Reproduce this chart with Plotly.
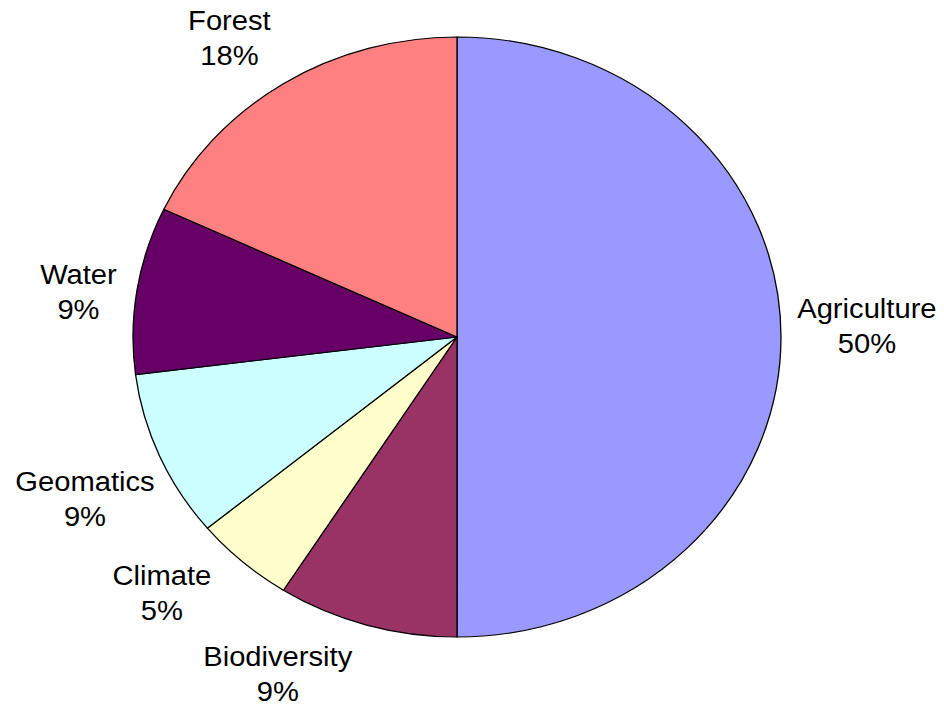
import plotly.graph_objects as go

# Share of projects by theme (percent)
themes = ["Agriculture", "Biodiversity", "Climate", "Geomatics", "Water", "Forest"]
shares = [50, 9, 5, 9, 9, 18]
colors = ["#9999FF", "#993366", "#FFFFCC", "#CCFFFF", "#660066", "#FF8080"]

# Label placement (paper fractions, before the horizontal widening)
label_x = [0.8863, 0.3086, 0.1948, 0.1188, 0.1133, 0.2614]
label_y = [0.5375, 0.0460, 0.1612, 0.2928, 0.5856, 0.9462]

W, H = 944, 707
cx, cy, r = 457, 337, 300
stretch_x = 1.08  # the pie is drawn slightly wider than tall
font = dict(family="Liberation Sans, Arial, sans-serif", size=27, color="#000000")

fig = go.Figure(
    go.Pie(
        labels=themes,
        values=shares,
        sort=False,
        direction="clockwise",
        rotation=0,
        marker=dict(colors=colors, line=dict(color="#000000", width=1.2)),
        textinfo="none",
        showlegend=False,
        hoverinfo="skip",
        domain=dict(
            x=[(cx - r) / W, (cx + r) / W],
            y=[(H - cy - r) / H, (H - cy + r) / H],
        ),
    )
)

total = sum(shares)
for name, val, x, y in zip(themes, shares, label_x, label_y):
    fig.add_annotation(
        x=x, y=y, xref="paper", yref="paper",
        text=f"{name}<br>{round(100 * val / total)}%",
        showarrow=False, xanchor="center", yanchor="middle",
        align="center", font=font, borderpad=0,
    )

fig.update_layout(
    width=W,
    height=H,
    margin=dict(l=0, r=0, t=0, b=0),
    paper_bgcolor="#FFFFFF",
    plot_bgcolor="#FFFFFF",
)

# widen the whole drawing horizontally about the pie centre
post = (
    "document.documentElement.style.overflow='hidden';"
    "document.body.style.overflow='hidden';"
    "var gd=document.getElementById('{plot_id}');"
    "gd.style.transformOrigin='%dpx 0px';"
    "gd.style.transform='scaleX(%s)';" % (cx, stretch_x)
)

fig.write_html("out.html", post_script=post)
